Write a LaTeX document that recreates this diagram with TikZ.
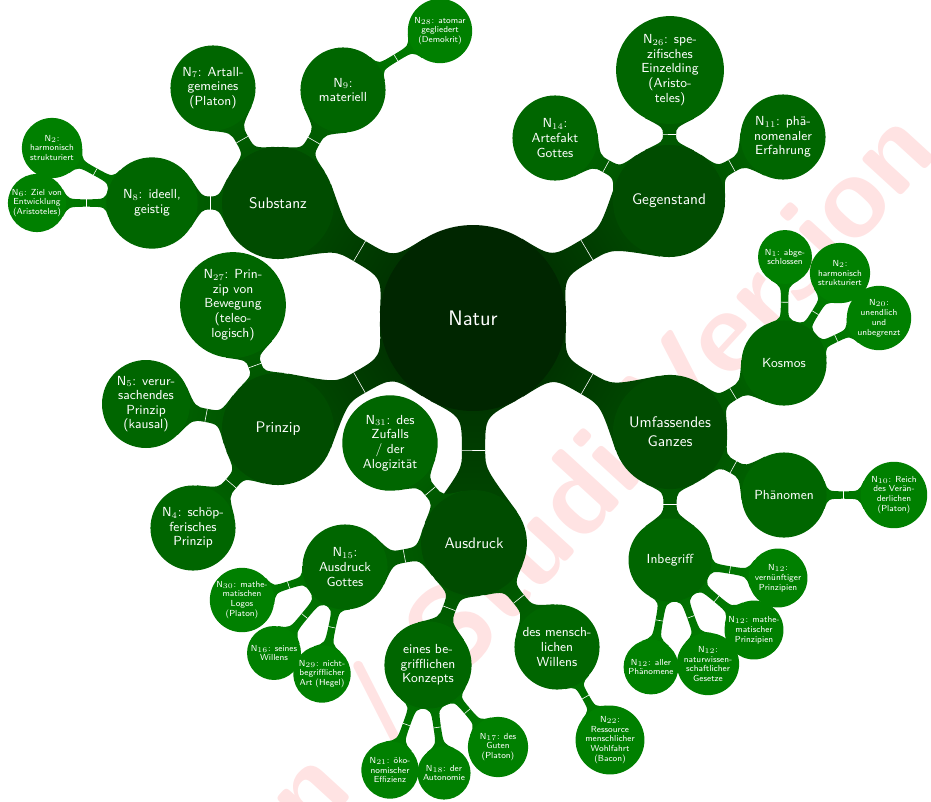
\documentclass[tikz,border=0pt]{standalone}
\usepackage{tikz}
\usetikzlibrary{calc}

\colorlet{rootgreen}{green!15!black}
\colorlet{onegreen}{green!30!black}
\colorlet{twogreen}{green!40!black}
\colorlet{threegreen}{green!50!black}
\colorlet{stampred}{red!11}

\pgfdeclarelayer{back}
\pgfdeclarelayer{background}
\pgfsetlayers{back,background,main}

% bar from node #1 to node #2, half width #3, colours #4 -> #5
\newcommand{\linkbar}[5]{%
	\path let \p1=(#1.center), \p2=(#1.east), \p3=(#2.center), \p4=(#2.east),
			\n1={\x2-\x1}, \n2={\x4-\x3},
			\n3={scalar(asin(min(3.7*#3/\n1,0.82)))},
			\n4={scalar(asin(min(3.7*#3/\n2,0.82)))} in
		coordinate (pa1) at ($(#1.center)!\n1!\n3:(#2.center)$)
		coordinate (pa2) at ($(#1.center)!\n1!-\n3:(#2.center)$)
		coordinate (pb1) at ($(#2.center)!\n2!-\n4:(#1.center)$)
		coordinate (pb2) at ($(#2.center)!\n2!\n4:(#1.center)$)
		coordinate (ea) at ($(#1.center)!\n1!(#2.center)$)
		coordinate (eb) at ($(#2.center)!\n2!(#1.center)$);
	\path coordinate (mm) at ($(ea)!0.5!(eb)$)
		coordinate (nn1) at ($(mm)!#3!90:(eb)$)
		coordinate (nn2) at ($(mm)!#3!-90:(eb)$)
		coordinate (sn1) at ($(nn1)+(eb)-(ea)$)
		coordinate (sn2) at ($(nn2)+(eb)-(ea)$)
		coordinate (ta1) at ($(pa1)!1!90:(#1.center)$)
		coordinate (ta2) at ($(pa2)!1!90:(#1.center)$)
		coordinate (tb1) at ($(pb1)!1!90:(#2.center)$)
		coordinate (tb2) at ($(pb2)!1!90:(#2.center)$);
	\pgfmathanglebetweenpoints{\pgfpointanchor{#1}{center}}{\pgfpointanchor{#2}{center}}%
	\pgfmathsetmacro{\barangle}{\pgfmathresult+90}%
	\path[left color=#4, right color=#5, shading angle=\barangle]
		(#1.center) -- (pa1) .. controls (intersection of pa1--ta1 and nn1--sn1) .. (nn1)
		.. controls (intersection of pb1--tb1 and nn1--sn1) .. (pb1) -- (#2.center)
		-- (pb2) .. controls (intersection of pb2--tb2 and nn2--sn2) .. (nn2)
		.. controls (intersection of pa2--ta2 and nn2--sn2) .. (pa2) -- cycle;
	\draw[white, line width=0.4pt] (nn1) -- (nn2);
}

\begin{document}
\begin{tikzpicture}[x=0.0241cm,y=-0.0241cm,font=\sffamily]
	\tikzstyle{idea}=[circle, text=white, inner sep=0pt, align=center]
	\tikzstyle{rootidea}=[idea, fill=rootgreen, minimum size=4.48cm, font=\sffamily\fontsize{14.4}{17}\selectfont]
	\tikzstyle{oneidea}=[idea, fill=onegreen, minimum size=2.7cm, font=\sffamily\fontsize{10.5}{13}\selectfont]
	\tikzstyle{twoidea}=[idea, fill=twogreen, minimum size=2.05cm, font=\sffamily\fontsize{9}{10}\selectfont]
	\tikzstyle{threeidea}=[idea, fill=threegreen, minimum size=1.4cm, font=\sffamily\fontsize{6}{6.8}\selectfont]
	\useasboundingbox (0,0) rectangle (931,801);

	\begin{pgfonlayer}{back}
		\node[rotate=47.5, anchor=base east, text=stampred, font=\sffamily\bfseries\fontsize{80}{86}\selectfont] (stamp) at (944,150) {n / Studi-Version};
	\end{pgfonlayer}

	% centre and first ring
	\node[rootidea] (Nat) at (473,318) {Natur};
	\node[oneidea] (Sub) at (278,203) {Substanz};
	\node[oneidea] (Geg) at (669,201) {Gegenstand};
	\node[oneidea] (Pri) at (278,429) {Prinzip};
	\node[oneidea, minimum size=2.55cm] (Aus) at (474,543) {Ausdruck};
	\node[oneidea, minimum size=2.75cm] (Umf) at (670,432) {Umfassendes\\Ganzes};

	% Substanz
	\node[twoidea] (N7) at (213,88) {N$_7$: Artall-\\gemeines\\(Platon)};
	\node[twoidea] (N9) at (343,90) {N$_9$:\\materiell};
	\node[twoidea, minimum size=2.2cm] (N8) at (152,203) {N$_8$: ideell,\\geistig};
	\node[threeidea, minimum size=1.55cm] (N28) at (440,31) {N$_{28}$: atomar\\gegliedert\\(Demokrit)};
	\node[threeidea, minimum size=1.45cm] (N2a) at (52,148) {N$_2$:\\harmonisch\\strukturiert};
	\node[threeidea] (N6) at (37,203) {N$_6$: Ziel von\\Entwicklung\\(Aristoteles)};

	% Gegenstand
	\node[twoidea] (N14) at (555,138) {N$_{14}$:\\Artefakt\\Gottes};
	\node[twoidea, minimum size=2.6cm] (N26) at (670,70) {N$_{26}$: spe-\\zifisches\\Einzelding\\(Aristo-\\teles)};
	\node[twoidea] (N11) at (783,137) {N$_{11}$: phä-\\nomenaler\\Erfahrung};

	% Umfassendes Ganzes
	\node[twoidea] (Kos) at (784,363) {Kosmos};
	\node[twoidea] (Phae) at (784,495) {Phänomen};
	\node[twoidea, minimum size=2cm] (Inb) at (670,560) {Inbegriff};
	\node[threeidea, minimum size=1.3cm] (N1) at (785,257) {N$_1$: abge-\\schlossen};
	\node[threeidea, minimum size=1.45cm] (N2b) at (840,273) {N$_2$:\\harmonisch\\strukturiert};
	\node[threeidea, minimum size=1.55cm] (N20) at (879,318) {N$_{20}$:\\unendlich\\und\\unbegrenzt};
	\node[threeidea, minimum size=1.6cm] (N10) at (894,495) {N$_{10}$: Reich\\des Verän-\\derlichen\\(Platon)};
	\node[threeidea, minimum size=1.42cm] (N12a) at (778,578) {N$_{12}$:\\vernünftiger\\Prinzipien};
	\node[threeidea, minimum size=1.42cm] (N12b) at (754,630) {N$_{12}$: mathe-\\matischer\\Prinzipien};
	\node[threeidea, minimum size=1.5cm] (N12c) at (708,664) {N$_{12}$:\\naturwissen-\\schaftlicher\\Gesetze};
	\node[threeidea, minimum size=1.32cm] (N12d) at (651,667) {N$_{12}$: aller\\Phänomene};

	% Prinzip
	\node[twoidea, minimum size=2.55cm] (N27) at (233,305) {N$_{27}$: Prin-\\zip von\\Bewegung\\(teleo-\\logisch)};
	\node[twoidea, minimum size=2.12cm] (N5) at (146,404) {N$_5$: verur-\\sachendes\\Prinzip\\(kausal)};
	\node[twoidea] (N4) at (193,528) {N$_4$: schöp-\\ferisches\\Prinzip};

	% Ausdruck
	\node[twoidea, minimum size=2.3cm] (N31) at (390,443) {N$_{31}$: des\\Zufalls\\/ der\\Alogizität};
	\node[twoidea] (N15) at (345,567) {N$_{15}$:\\Ausdruck\\Gottes};
	\node[twoidea, minimum size=2.1cm] (Konz) at (428,665) {eines be-\\grifflichen\\Konzepts};
	\node[twoidea] (Will) at (557,647) {des mensch-\\lichen\\Willens};
	\node[threeidea, minimum size=1.55cm] (N30) at (242,600) {N$_{30}$: mathe-\\matischen\\Logos\\(Platon)};
	\node[threeidea, minimum size=1.3cm] (N16) at (274,653) {N$_{16}$: seines\\Willens};
	\node[threeidea, minimum size=1.38cm] (N29) at (322,674) {N$_{29}$: nicht-\\begrifflicher\\Art (Hegel)};
	\node[threeidea, minimum size=1.38cm] (N21) at (390,770) {N$_{21}$: öko-\\nomischer\\Effizienz};
	\node[threeidea, minimum size=1.28cm] (N18) at (444,773) {N$_{18}$: der\\Autonomie};
	\node[threeidea, minimum size=1.45cm] (N17) at (498,747) {N$_{17}$: des\\Guten\\(Platon)};
	\node[threeidea, minimum size=1.55cm] (N22) at (610,740) {N$_{22}$:\\Ressource\\menschlicher\\Wohlfahrt\\(Bacon)};

	\begin{pgfonlayer}{background}
		\linkbar{Nat}{Sub}{0.28cm}{rootgreen}{onegreen}
		\linkbar{Nat}{Geg}{0.28cm}{rootgreen}{onegreen}
		\linkbar{Nat}{Pri}{0.28cm}{rootgreen}{onegreen}
		\linkbar{Nat}{Aus}{0.28cm}{rootgreen}{onegreen}
		\linkbar{Nat}{Umf}{0.28cm}{rootgreen}{onegreen}
		\linkbar{Sub}{N7}{0.16cm}{onegreen}{twogreen}
		\linkbar{Sub}{N9}{0.16cm}{onegreen}{twogreen}
		\linkbar{Sub}{N8}{0.16cm}{onegreen}{twogreen}
		\linkbar{Geg}{N14}{0.16cm}{onegreen}{twogreen}
		\linkbar{Geg}{N26}{0.16cm}{onegreen}{twogreen}
		\linkbar{Geg}{N11}{0.16cm}{onegreen}{twogreen}
		\linkbar{Umf}{Kos}{0.16cm}{onegreen}{twogreen}
		\linkbar{Umf}{Phae}{0.16cm}{onegreen}{twogreen}
		\linkbar{Umf}{Inb}{0.16cm}{onegreen}{twogreen}
		\linkbar{Pri}{N27}{0.16cm}{onegreen}{twogreen}
		\linkbar{Pri}{N5}{0.16cm}{onegreen}{twogreen}
		\linkbar{Pri}{N4}{0.16cm}{onegreen}{twogreen}
		\linkbar{Aus}{N31}{0.16cm}{onegreen}{twogreen}
		\linkbar{Aus}{N15}{0.16cm}{onegreen}{twogreen}
		\linkbar{Aus}{Konz}{0.16cm}{onegreen}{twogreen}
		\linkbar{Aus}{Will}{0.16cm}{onegreen}{twogreen}
		\linkbar{N9}{N28}{0.09cm}{twogreen}{threegreen}
		\linkbar{N8}{N2a}{0.09cm}{twogreen}{threegreen}
		\linkbar{N8}{N6}{0.09cm}{twogreen}{threegreen}
		\linkbar{Kos}{N1}{0.09cm}{twogreen}{threegreen}
		\linkbar{Kos}{N2b}{0.09cm}{twogreen}{threegreen}
		\linkbar{Kos}{N20}{0.09cm}{twogreen}{threegreen}
		\linkbar{Phae}{N10}{0.09cm}{twogreen}{threegreen}
		\linkbar{Inb}{N12a}{0.09cm}{twogreen}{threegreen}
		\linkbar{Inb}{N12b}{0.09cm}{twogreen}{threegreen}
		\linkbar{Inb}{N12c}{0.09cm}{twogreen}{threegreen}
		\linkbar{Inb}{N12d}{0.09cm}{twogreen}{threegreen}
		\linkbar{N15}{N30}{0.09cm}{twogreen}{threegreen}
		\linkbar{N15}{N16}{0.09cm}{twogreen}{threegreen}
		\linkbar{N15}{N29}{0.09cm}{twogreen}{threegreen}
		\linkbar{Konz}{N21}{0.09cm}{twogreen}{threegreen}
		\linkbar{Konz}{N18}{0.09cm}{twogreen}{threegreen}
		\linkbar{Konz}{N17}{0.09cm}{twogreen}{threegreen}
		\linkbar{Will}{N22}{0.09cm}{twogreen}{threegreen}
	\end{pgfonlayer}
\end{tikzpicture}
\end{document}
